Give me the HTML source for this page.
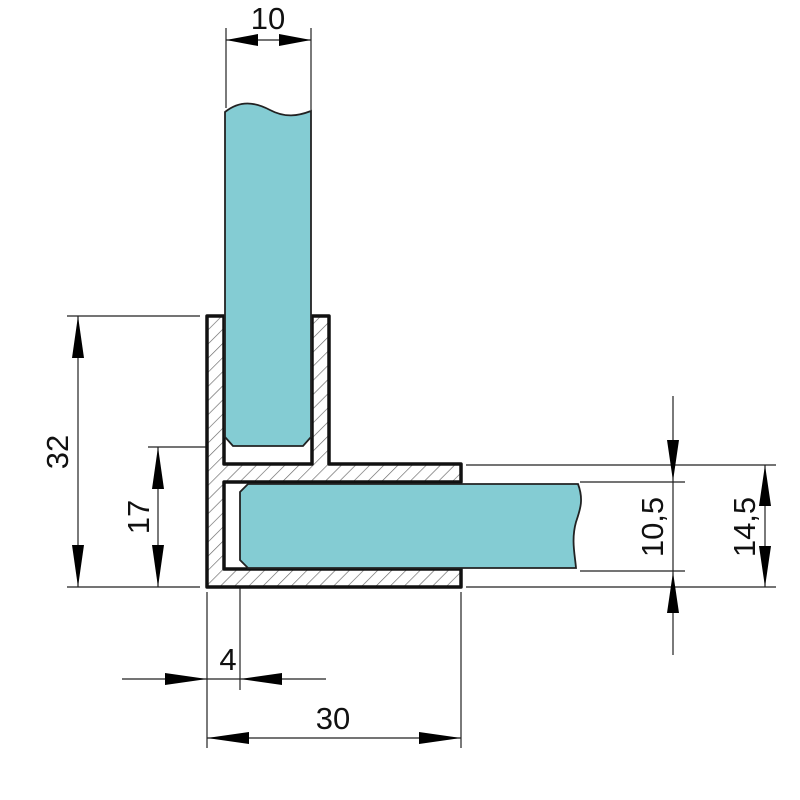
<!DOCTYPE html>
<html><head><style>html,body{margin:0;padding:0;background:#fff}svg{display:block}</style></head>
<body>
<svg width="800" height="800" viewBox="0 0 800 800" xmlns="http://www.w3.org/2000/svg">
<defs>
<pattern id="h" patternUnits="userSpaceOnUse" width="10" height="10" patternTransform="rotate(45)">
<rect width="10" height="10" fill="#fff"/>
<line x1="0" y1="0" x2="0" y2="10" stroke="#666" stroke-width="1.3"/>
</pattern>
</defs>
<g stroke="#222" stroke-width="1.2" fill="none">
<line x1="226" y1="28" x2="226" y2="108"/>
<line x1="311" y1="28" x2="311" y2="110"/>
<line x1="67" y1="316" x2="200" y2="316"/>
<line x1="67" y1="587" x2="200" y2="587"/>
<line x1="148" y1="447" x2="210" y2="447"/>
<line x1="207" y1="592" x2="207" y2="748"/>
<line x1="240" y1="570" x2="240" y2="690"/>
<line x1="461" y1="592" x2="461" y2="748"/>
<line x1="466" y1="465" x2="776" y2="465"/>
<line x1="580" y1="482" x2="685" y2="482"/>
<line x1="580" y1="571" x2="685" y2="571"/>
<line x1="466" y1="587" x2="776" y2="587"/>
<line x1="226" y1="40" x2="311" y2="40"/>
<line x1="78" y1="316" x2="78" y2="587"/>
<line x1="158" y1="447" x2="158" y2="587"/>
<line x1="122" y1="679" x2="326" y2="679"/>
<line x1="207" y1="738" x2="461" y2="738"/>
<line x1="673" y1="396" x2="673" y2="655"/>
<line x1="765" y1="465" x2="765" y2="587"/>
</g>
<g fill="#000">
<polygon points="226,40 258,34 258,46"/><polygon points="311,40 279,34 279,46"/>
<polygon points="78,316 72,358 84,358"/><polygon points="78,587 72,545 84,545"/>
<polygon points="158,447 152,489 164,489"/><polygon points="158,587 152,545 164,545"/>
<polygon points="207,679 165,673 165,685"/><polygon points="240,679 282,673 282,685"/>
<polygon points="207,738 249,732 249,744"/><polygon points="461,738 419,732 419,744"/>
<polygon points="673,481 667,440 679,440"/><polygon points="673,572 667,613 679,613"/>
<polygon points="765,465 759,506 771,506"/><polygon points="765,587 759,546 771,546"/>
</g>
<path d="M207,316 H224 V464 H312 V316 H329 V464 H461 V482 H224 V569 H461 V587 H207 Z" fill="url(#h)" stroke="#111" stroke-width="3.5" stroke-linejoin="round"/>
<path d="M225,112 C240,100 255,102 270,110 C285,118 298,116 311,111 V437 L303,446 H233 L225,437 Z" fill="#84ccd3" stroke="#222" stroke-width="1.8"/>
<path d="M248,484 H578 C584,500 580,510 576,522 C571,540 575,555 576,568 H248 L240,560 V492 Z" fill="#84ccd3" stroke="#222" stroke-width="1.8"/>
<g font-family="Liberation Sans, sans-serif" font-size="31" fill="#111" text-anchor="middle">
<text x="268" y="29">10</text>
<text x="228" y="670">4</text>
<text x="333" y="729">30</text>
<text transform="translate(68,452) rotate(-90)">32</text>
<text transform="translate(149,517) rotate(-90)">17</text>
<text transform="translate(663,527) rotate(-90)">10,5</text>
<text transform="translate(755,527) rotate(-90)">14,5</text>
</g>
</svg>
</body></html>
